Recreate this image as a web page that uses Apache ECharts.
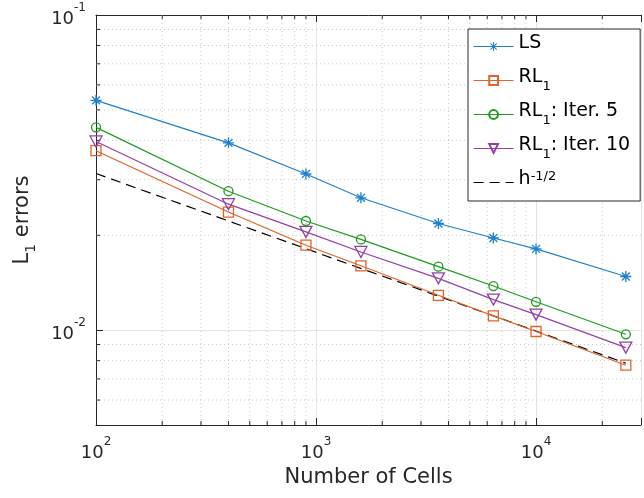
<!DOCTYPE html>
<html>
<head>
<meta charset="utf-8">
<script src="https://cdn.jsdelivr.net/npm/echarts@6/dist/echarts.min.js"></script>
<style>
  html, body { margin: 0; padding: 0; background: #fff; }
  #chart { width: 644px; height: 498px; }
</style>
</head>
<body>
<div id="chart"></div>
<script>
// Mesh sizes (number of cells) and L1 errors of each scheme
const cells  = [100, 400, 900, 1600, 3600, 6400, 10000, 25600];
const ls     = [0.0536, 0.0393, 0.0313, 0.0263, 0.0218, 0.0196, 0.0181, 0.0148];
const rl1    = [0.0371, 0.0237, 0.0186, 0.0160, 0.0129, 0.0111, 0.0099, 0.00774];
const iter5  = [0.0440, 0.0276, 0.0222, 0.0194, 0.0159, 0.0138, 0.0123, 0.0097];
const iter10 = [0.0397, 0.0251, 0.0205, 0.0177, 0.0146, 0.0125, 0.0112, 0.0088];

// Reference slope line
const refCells = [100, 25600];
const refErr   = [0.0314, 0.00785];

// Axis ranges and minor tick positions
const xRange = [100, 30000];
const yRange = [0.005, 0.1];
const xMinor = [200, 300, 400, 500, 600, 700, 800, 900,
                2000, 3000, 4000, 5000, 6000, 7000, 8000, 9000, 20000];
const yMinor = [0.006, 0.007, 0.008, 0.009,
                0.02, 0.03, 0.04, 0.05, 0.06, 0.07, 0.08, 0.09];

const FONT = 'DejaVu Sans';
const AXIS_COLOR = '#262626';
const MAJOR_GRID = '#e3e3e3';
const MINOR_GRID = '#c9c9c9';

const colors = {
  ls: '#1f80cc',
  rl1: '#e2622a',
  iter5: '#1f9a1f',
  iter10: '#9440a8',
  ref: '#000000'
};

// Asterisk marker built from four thin bars
const STAR = 'path://M4.4,0h1.2v10h-1.2z M0,4.4h10v1.2h-10z M1.0,1.85l0.85,-0.85l7.15,7.15l-0.85,0.85z M8.15,1.0l0.85,0.85l-7.15,7.15l-0.85,-0.85z';

const pairs = (xs, ys) => xs.map((x, i) => [x, ys[i]]);
const isPow10 = v => Math.abs(Math.log10(v) - Math.round(Math.log10(v))) < 1e-6;
const powLabel = v => '{b|10}{p|' + Math.round(Math.log10(v)) + '}';

const supRich = {
  b: { fontFamily: FONT, fontSize: 18, color: '#262626', padding: [8, 0, 0, 0], verticalAlign: 'top' },
  p: { fontFamily: FONT, fontSize: 12, color: '#262626', verticalAlign: 'top' }
};

const legendRich = {
  b: { fontFamily: FONT, fontSize: 19, color: '#000', verticalAlign: 'top', lineHeight: 22 },
  s: { fontFamily: FONT, fontSize: 13, color: '#000', verticalAlign: 'top', padding: [12, 0, 0, 0] },
  p: { fontFamily: FONT, fontSize: 13, color: '#000', verticalAlign: 'top', lineHeight: 13 }
};

const legendText = {
  'LS': '{b|LS}{s| }',
  'RL1': '{b|RL}{s|1}',
  'RL1: Iter. 5': '{b|RL}{s|1}{b|: Iter. 5}',
  'RL1: Iter. 10': '{b|RL}{s|1}{b|: Iter. 10}',
  'h^-1/2': '{b|h}{p|-1/2}{s| }'
};

function lineSeries(name, xs, ys, color, symbol, size, rotate) {
  return {
    name: name,
    type: 'line',
    data: pairs(xs, ys),
    z: 5,
    symbol: symbol,
    symbolSize: size,
    symbolRotate: rotate || 0,
    showSymbol: true,
    lineStyle: { color: color, width: 1.2 },
    itemStyle: symbol === STAR
      ? { color: color, borderWidth: 0 }
      : { color: 'rgba(255,255,255,0)', borderColor: color, borderWidth: 1.3 },
    emphasis: { disabled: true },
    animation: false
  };
}

const minorX = {
  type: 'custom',
  coordinateSystem: 'cartesian2d',
  silent: true,
  z: 1,
  clip: false,
  data: xMinor.map(v => [v, yRange[0]]),
  renderItem: function (params, api) {
    const x = api.value(0);
    const top = api.coord([x, yRange[1]]);
    const bot = api.coord([x, yRange[0]]);
    const tick = { stroke: AXIS_COLOR, lineWidth: 1 };
    return {
      type: 'group',
      children: [
        { type: 'line', shape: { x1: top[0], y1: top[1], x2: bot[0], y2: bot[1] },
          style: { stroke: MINOR_GRID, lineWidth: 1, lineDash: [1, 3] } },
        { type: 'line', shape: { x1: bot[0], y1: bot[1], x2: bot[0], y2: bot[1] - 4 }, style: tick },
        { type: 'line', shape: { x1: top[0], y1: top[1], x2: top[0], y2: top[1] + 4 }, style: tick }
      ]
    };
  }
};

const minorY = {
  type: 'custom',
  coordinateSystem: 'cartesian2d',
  silent: true,
  z: 1,
  clip: false,
  data: yMinor.map(v => [xRange[0], v]),
  renderItem: function (params, api) {
    const y = api.value(1);
    const left = api.coord([xRange[0], y]);
    const right = api.coord([xRange[1], y]);
    const tick = { stroke: AXIS_COLOR, lineWidth: 1 };
    return {
      type: 'group',
      children: [
        { type: 'line', shape: { x1: left[0], y1: left[1], x2: right[0], y2: right[1] },
          style: { stroke: MINOR_GRID, lineWidth: 1, lineDash: [1, 3] } },
        { type: 'line', shape: { x1: left[0], y1: left[1], x2: left[0] + 4, y2: left[1] }, style: tick }
      ]
    };
  }
};

const refSeries = {
  name: 'h^-1/2',
  type: 'line',
  data: pairs(refCells, refErr),
  z: 4,
  symbol: 'circle',
  showSymbol: false,
  lineStyle: { color: colors.ref, width: 1.2, type: [10, 6] },
  itemStyle: { color: colors.ref, opacity: 0 },
  emphasis: { disabled: true },
  animation: false
};

const chart = echarts.init(document.getElementById('chart'), null, { renderer: 'canvas' });

chart.setOption({
  backgroundColor: '#ffffff',
  animation: false,
  grid: { left: 96, top: 15, right: -6.8, bottom: 73, containLabel: false },
  xAxis: [
    {
      type: 'log',
      logBase: 10,
      min: xRange[0],
      max: xRange[1],
      position: 'bottom',
      name: 'Number of Cells',
      nameLocation: 'middle',
      nameGap: 41,
      nameTextStyle: { fontFamily: FONT, fontSize: 21, color: '#262626' },
      axisLine: { lineStyle: { color: AXIS_COLOR, width: 1 } },
      axisTick: { inside: true, length: 7, lineStyle: { color: AXIS_COLOR } },
      axisLabel: {
        margin: 11,
        formatter: v => isPow10(v) ? powLabel(v) : '',
        rich: supRich
      },
      splitLine: { show: true, lineStyle: { color: MAJOR_GRID, width: 1 } }
    },
    {
      type: 'log',
      logBase: 10,
      min: xRange[0],
      max: xRange[1],
      position: 'top',
      axisLine: { lineStyle: { color: AXIS_COLOR, width: 1 } },
      axisTick: { inside: true, length: 7, lineStyle: { color: AXIS_COLOR } },
      axisLabel: { show: false },
      splitLine: { show: false }
    }
  ],
  yAxis: {
    type: 'log',
    logBase: 10,
    min: yRange[0],
    max: yRange[1],
    name: '{b|L}{s|1}{b| errors}',
    nameLocation: 'middle',
    nameGap: 58,
    nameRotate: 90,
    nameTextStyle: {
      rich: {
        b: { fontFamily: FONT, fontSize: 21, color: '#262626', verticalAlign: 'top', lineHeight: 24 },
        s: { fontFamily: FONT, fontSize: 14, color: '#262626', verticalAlign: 'top', padding: [12, 0, 0, 0] }
      }
    },
    axisLine: { lineStyle: { color: AXIS_COLOR, width: 1 } },
    axisTick: { inside: true, length: 7, lineStyle: { color: AXIS_COLOR } },
    axisLabel: {
      margin: 10,
      formatter: v => isPow10(v) ? powLabel(v) : '',
      rich: supRich
    },
    splitLine: { show: true, lineStyle: { color: MAJOR_GRID, width: 1 } }
  },
  legend: {
    orient: 'vertical',
    left: 468,
    top: 29,
    padding: [5, 10, 6, 5],
    itemGap: 9,
    itemWidth: 40,
    itemHeight: 11,
    backgroundColor: '#ffffff',
    borderColor: AXIS_COLOR,
    borderWidth: 1,
    borderRadius: 0,
    selectedMode: false,
    data: ['LS', 'RL1', 'RL1: Iter. 5', 'RL1: Iter. 10', 'h^-1/2'],
    formatter: name => legendText[name],
    textStyle: { rich: legendRich },
    lineStyle: { width: 1.2 }
  },
  series: [
    minorX,
    minorY,
    lineSeries('LS', cells, ls, colors.ls, STAR, 11),
    lineSeries('RL1', cells, rl1, colors.rl1, 'rect', 10),
    lineSeries('RL1: Iter. 5', cells, iter5, colors.iter5, 'circle', 9),
    lineSeries('RL1: Iter. 10', cells, iter10, colors.iter10, 'triangle', [12, 11], 180),
    refSeries
  ]
});
</script>
</body>
</html>
